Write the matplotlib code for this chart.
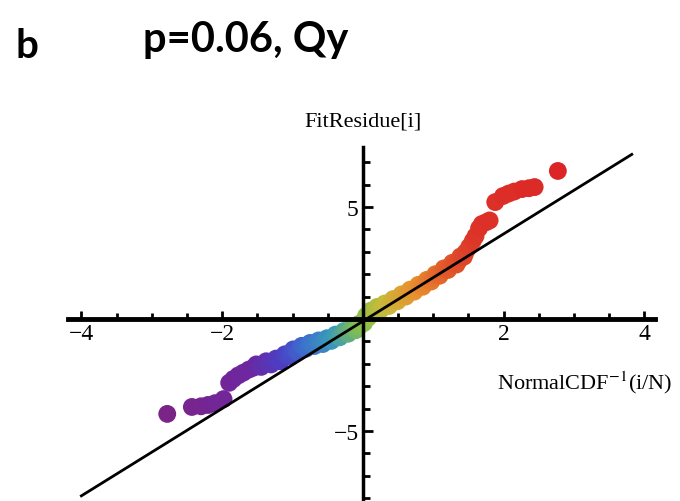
import matplotlib
matplotlib.use("Agg")
import matplotlib.pyplot as plt
from matplotlib.colors import LinearSegmentedColormap
from matplotlib.ticker import MultipleLocator, FixedLocator
import numpy as np

# ---- data ----
quantile_x = [-2.78, -2.43, -2.30, -2.20, -2.10, -1.98, -1.90, -1.84, -1.77, -1.70,
              -1.62, -1.55, -1.48, -1.41, -1.34, -1.27, -1.20, -1.14, -1.08, -1.02,
              -0.96, -0.90, -0.84, -0.78, -0.72, -0.66, -0.60, -0.54, -0.48, -0.42,
              -0.36, -0.30, -0.24, -0.18, -0.12, -0.07, -0.03, 0.00, 0.03, 0.06,
              0.09, 0.13, 0.18, 0.23, 0.28, 0.34, 0.40, 0.46, 0.52, 0.58,
              0.64, 0.70, 0.76, 0.82, 0.88, 0.94, 1.00, 1.06, 1.12, 1.18,
              1.24, 1.30, 1.36, 1.41, 1.46, 1.51, 1.56, 1.60, 1.65, 1.69,
              1.75, 1.80, 1.88, 1.99, 2.07, 2.15, 2.26, 2.36, 2.44, 2.77]
fit_residue = [-4.24, -3.93, -3.90, -3.84, -3.76, -3.58, -2.85, -2.68, -2.52, -2.40,
               -2.26, -2.17, -2.08, -2.01, -1.96, -1.90, -1.84, -1.74, -1.62, -1.50,
               -1.42, -1.34, -1.26, -1.20, -1.14, -1.08, -1.04, -0.99, -0.92, -0.84,
               -0.76, -0.68, -0.59, -0.52, -0.44, -0.36, -0.26, -0.14, -0.02, 0.10,
               0.22, 0.31, 0.40, 0.48, 0.55, 0.62, 0.74, 0.84, 0.94, 1.05,
               1.15, 1.27, 1.37, 1.48, 1.59, 1.71, 1.83, 1.96, 2.09, 2.22,
               2.35, 2.46, 2.60, 2.78, 2.98, 3.22, 3.48, 3.70, 4.05, 4.24,
               4.32, 4.40, 5.22, 5.49, 5.60, 5.69, 5.80, 5.84, 5.89, 6.61]
# further points in the dense central band (scatter across the band)
band_x = [-1.515, -1.445, -1.375, -1.305, -1.235, -1.17, -1.11, -1.05, -0.99, -0.93,
          -0.87, -0.81, -0.75, -0.69, -0.63, -0.57, -0.51, -0.45, -0.39, -0.33,
          -0.27, -0.21, -0.15, -0.10, -0.05, 0.015, 0.045, 0.075, 0.11, 0.155,
          0.205, 0.255, 0.31, 0.37, 0.43, 0.49, 0.55, 0.61, 0.67, 0.73,
          0.79, 0.85, 0.91, 0.97, 1.03, 1.09, 1.15, 1.21, 1.27, 1.33,
          1.385, 1.435]
band_y = [-2.03, -2.14, -1.89, -2.03, -1.77, -1.89, -1.58, -1.66, -1.36, -1.48,
          -1.20, -1.33, -1.07, -1.21, -0.96, -1.12, -0.86, -0.98, -0.70, -0.82,
          -0.54, -0.66, -0.38, -0.50, -0.21, -0.18, 0.14, 0.06, 0.37, 0.26,
          0.54, 0.42, 0.69, 0.58, 0.89, 0.79, 1.10, 1.00, 1.31, 1.22,
          1.53, 1.44, 1.75, 1.67, 2.00, 1.93, 2.26, 2.19, 2.51, 2.43,
          2.79, 2.78]
ref_line_x = [-4.0, 3.82]
ref_slope = 1.95
ref_intercept = -0.1

x_major_ticks = [-4, -2, 2, 4]
x_tick_labels = ["\u22124", "\u22122", "2", "4"]
y_major_ticks = [-5, 5]
y_tick_labels = ["\u22125", "5"]

panel_letter = "b"
title_text = "p=0.06, Qy"
y_label = "FitResidue[i]"
x_label = "NormalCDF$^{-1}$(i/N)"

# ---- style ----
plt.rcParams['mathtext.fontset'] = 'stix'
cmap = LinearSegmentedColormap.from_list("mma_rainbow", [
    (0.00, "#7b2488"), (0.22, "#6d27a0"), (0.30, "#4b3fc4"), (0.36, "#3c6fce"),
    (0.43, "#3a9ab8"), (0.50, "#86c04a"), (0.56, "#c8bb3a"), (0.64, "#e8902e"),
    (0.72, "#e05a2a"), (0.80, "#dc3228"), (1.00, "#dc2626")])

fig = plt.figure(figsize=(6.8, 5.02), dpi=100)
ax = fig.add_axes([68/680, 0.0, (655-68)/680, (502-148)/502])
ax.set_xlim(-4.19, 4.15)
ax.set_ylim(-8.13, 7.68)

all_x = np.concatenate([quantile_x, band_x])
all_y = np.concatenate([fit_residue, band_y])
order = np.argsort(all_x, kind='stable')
all_x, all_y = all_x[order], all_y[order]
t = (all_x - all_x.min()) / (all_x.max() - all_x.min())
ax.scatter(all_x, all_y, s=165, c=cmap(t), edgecolors='none', zorder=2)

lx = np.array(ref_line_x)
ax.plot(lx, ref_slope * lx + ref_intercept, color='black', lw=2.0, zorder=3)

for s in ['top', 'right']:
    ax.spines[s].set_visible(False)
ax.spines['left'].set_position(('data', 0))
ax.spines['bottom'].set_position(('data', 0))
ax.spines['bottom'].set_linewidth(3.5)
ax.spines['left'].set_linewidth(2.5)
ax.spines['bottom'].set_zorder(4)
ax.spines['left'].set_zorder(4)

ax.xaxis.set_major_locator(FixedLocator(x_major_ticks))
ax.xaxis.set_minor_locator(MultipleLocator(0.5))
ax.yaxis.set_major_locator(FixedLocator(y_major_ticks))
ax.yaxis.set_minor_locator(MultipleLocator(1))
ax.set_xticklabels(x_tick_labels, fontfamily='Liberation Serif', fontsize=17)
ax.set_yticklabels(y_tick_labels, fontfamily='Liberation Serif', fontsize=17)
ax.tick_params(axis='x', which='major', direction='in', length=6, width=2, pad=3)
ax.tick_params(axis='x', which='minor', direction='in', length=4, width=2)
ax.tick_params(axis='y', which='major', direction='in', length=7, width=2, pad=3)
ax.tick_params(axis='y', which='minor', direction='in', length=5, width=2)
ax.patch.set_alpha(0)

fig.text(15/680, 1 - 47/502, panel_letter, fontfamily='Lato', fontweight='bold',
         fontsize=29, ha='left', va='center')
fig.text(143/680, 1 - 40/502, title_text, fontfamily='Lato', fontweight='bold',
         fontsize=30, ha='left', va='center')
fig.text(363/680, 1 - 122/502, y_label, fontfamily='Liberation Serif',
         fontsize=16, ha='center', va='center')
fig.text(672/680, 1 - 383/502, x_label, fontfamily='Liberation Serif',
         fontsize=16, ha='right', va='center')

fig.savefig("out.png", dpi=100)
